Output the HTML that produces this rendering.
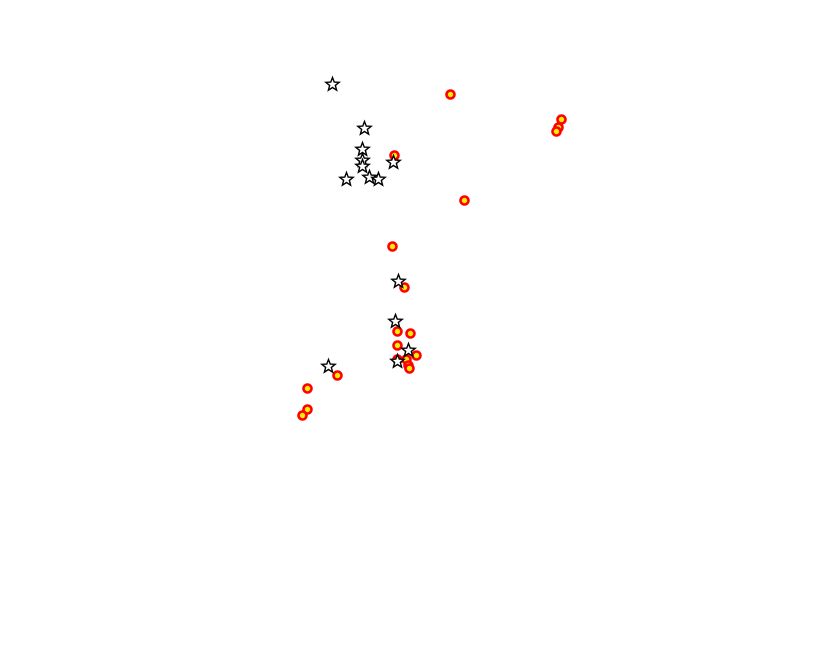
<!DOCTYPE html>
<html><head><meta charset="utf-8"><style>html,body{margin:0;padding:0;background:#fff;width:820px;height:650px;overflow:hidden}</style></head>
<body>
<svg width="820" height="650" xmlns="http://www.w3.org/2000/svg">
<defs>
<polygon id="s" points="0,-7 1.76,-2.43 6.66,-2.16 2.85,0.93 4.11,5.66 0,3 -4.11,5.66 -2.85,0.93 -6.66,-2.16 -1.76,-2.43" fill="#fff" stroke="#000" stroke-width="1.4"/>
<circle id="c" r="4" fill="#ffee00" stroke="#ff0000" stroke-width="2.6"/>
</defs>
<g transform="translate(0.5,0.5)">
<g>
<use href="#c" x="450" y="94"/><use href="#c" x="394" y="155"/><use href="#c" x="464" y="200"/>
<use href="#c" x="561" y="119"/><use href="#c" x="558" y="127"/><use href="#c" x="556" y="131"/>
<use href="#c" x="392" y="246"/><use href="#c" x="404" y="287"/>
<use href="#c" x="397" y="331"/><use href="#c" x="410" y="333"/><use href="#c" x="397" y="345"/>
<use href="#c" x="416" y="355"/><use href="#c" x="397" y="359"/><use href="#c" x="406" y="359"/>
<use href="#c" x="408" y="365"/><use href="#c" x="409" y="368"/>
<use href="#c" x="337" y="375"/><use href="#c" x="307" y="388"/><use href="#c" x="307" y="409"/><use href="#c" x="302" y="415"/>
</g>
<g>
<use href="#s" x="332" y="84"/><use href="#s" x="364" y="128"/><use href="#s" x="362" y="149"/>
<use href="#s" x="362" y="160"/><use href="#s" x="362" y="166"/><use href="#s" x="346" y="179"/>
<use href="#s" x="369" y="177"/><use href="#s" x="378" y="179"/><use href="#s" x="393" y="162"/>
<use href="#s" x="398" y="281"/><use href="#s" x="395" y="321"/><use href="#s" x="408" y="350"/>
<use href="#s" x="397" y="361"/><use href="#s" x="328" y="366"/>
</g>
</g>
</svg>
</body></html>
